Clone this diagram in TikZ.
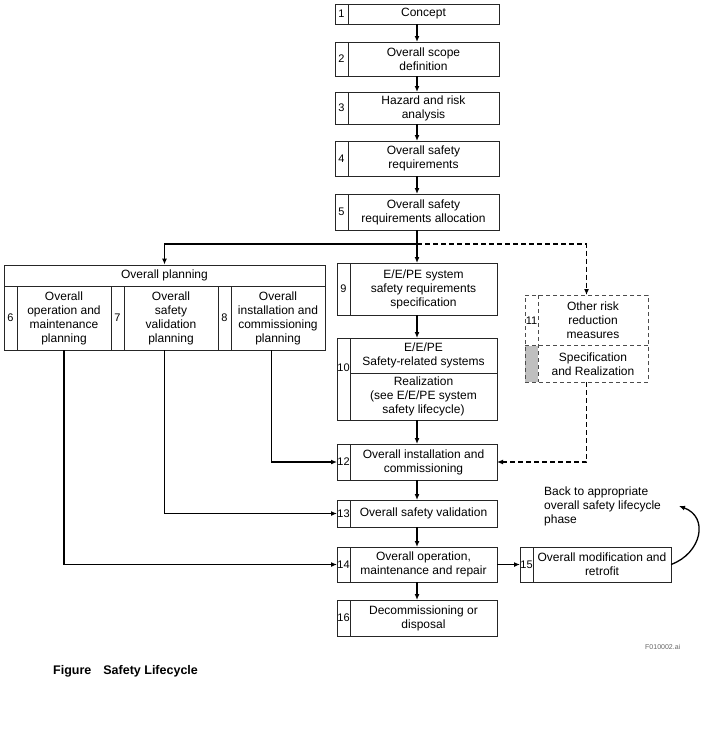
\documentclass[tikz,border=0pt]{standalone}
\usepackage{fontspec}
\setmainfont{Liberation Sans}
\usetikzlibrary{arrows.meta}

\begin{document}
\begin{tikzpicture}[x=1pt, y=1pt,
  font=\fontsize{12}{14}\selectfont,
  stepbox/.style={draw=black!85, line width=0.8pt, inner sep=0pt, outer sep=0pt,
                  minimum width=160,
                  path picture={\draw[black!85, line width=0.8pt]
                    ([xshift=13pt]path picture bounding box.north west) --
                    ([xshift=13pt]path picture bounding box.south west);}},
  dashbox/.style={draw=black!70, line width=0.8pt, dash pattern=on 4pt off 3pt,
                  inner sep=0pt, outer sep=0pt},
  num/.style={font=\fontsize{11}{13}\selectfont, anchor=center, xshift=6.5pt, inner sep=0pt},
  txt/.style={align=center, anchor=center, xshift=6.5pt, inner sep=0pt},
  arr/.style={->, line width=1.3pt, >={Latex[length=6pt,width=5pt]}},
  darr/.style={arr, dash pattern=on 5pt off 3pt},
  link/.style={line width=1.3pt}
]
  \useasboundingbox (0,0) rectangle (702,-747);

  % main column
  \node[stepbox, minimum width=164, minimum height=20,
        label={[num]west:1}, label={[txt]center:Concept}] (s1) at (417,-14) {};
  \node[stepbox, minimum width=164, minimum height=34,
        label={[num]west:2}, label={[txt]center:{Overall scope\\definition}}] (s2) at (417,-59) {};
  \node[stepbox, minimum width=164, minimum height=32,
        label={[num]west:3}, label={[txt]center:{Hazard and risk\\analysis}}] (s3) at (417,-108) {};
  \node[stepbox, minimum width=164, minimum height=35,
        label={[num]west:4}, label={[txt]center:{Overall safety\\requirements}}] (s4) at (417,-158.5) {};
  \node[stepbox, minimum width=164, minimum height=36,
        label={[num]west:5}, label={[txt]center:{Overall safety\\requirements allocation}}] (s5) at (417,-212) {};
  \coordinate (split) at (417,-244);

  % planning
  \node[draw=black!85, line width=0.8pt, inner sep=0pt, minimum width=321, minimum height=21]
        (plan) at (164.5,-275.5) {Overall planning};
  \node[stepbox, minimum width=107, minimum height=64,
        label={[num]west:6}, label={[txt]center:{Overall\\operation and\\maintenance\\planning}}] (s6) at (57.5,-318) {};
  \node[stepbox, minimum width=107, minimum height=64,
        label={[num]west:7}, label={[txt]center:{Overall\\safety\\validation\\planning}}] (s7) at (164.5,-318) {};
  \node[stepbox, minimum width=107, minimum height=64,
        label={[num]west:8}, label={[txt]center:{Overall\\installation and\\commissioning\\planning}}] (s8) at (271.5,-318) {};

  % realisation
  \node[stepbox, minimum height=52,
        label={[num]west:9}, label={[txt]center:{E/E/PE system\\safety requirements\\specification}}] (s9) at (417,-289) {};
  \node[stepbox, minimum height=82,
        label={[num, yshift=11pt]west:10},
        label={[txt, yshift=23.5pt]center:{E/E/PE\\Safety-related systems}},
        label={[txt, yshift=-17.5pt]center:{Realization\\(see E/E/PE system\\safety lifecycle)}}] (s10) at (417,-379) {};
  \draw[black!85, line width=0.8pt] ([xshift=13pt, yshift=-35pt]s10.north west) -- ([yshift=-35pt]s10.north east);

  \node[dashbox, minimum width=123, minimum height=87,
        path picture={
          \fill[black!25] (path picture bounding box.south west) rectangle
            ([xshift=13pt, yshift=36.5pt]path picture bounding box.south west);
          \draw[black!70, line width=0.8pt, dash pattern=on 4pt off 3pt]
            ([xshift=13pt]path picture bounding box.north west) --
            ([xshift=13pt]path picture bounding box.south west)
            ([yshift=36.5pt]path picture bounding box.south west) --
            ([yshift=36.5pt]path picture bounding box.south east);},
        label={[num, yshift=18pt]west:11},
        label={[txt, yshift=18pt]center:{Other risk\\reduction\\measures}},
        label={[txt, yshift=-25.5pt]center:{Specification\\and Realization}}] (s11) at (586.5,-338.5) {};

  \node[stepbox, minimum height=36,
        label={[num]west:12}, label={[txt]center:{Overall installation and\\commissioning}}] (s12) at (417,-462) {};
  \node[stepbox, minimum height=27,
        label={[num]west:13}, label={[txt]center:Overall safety validation}] (s13) at (417,-513.5) {};
  \node[stepbox, minimum height=35,
        label={[num]west:14}, label={[txt]center:{Overall operation,\\maintenance and repair}}] (s14) at (417,-564.5) {};
  \node[stepbox, minimum width=151, minimum height=35,
        label={[num]west:15}, label={[txt]center:{Overall modification and\\retrofit}}] (s15) at (595.5,-564.5) {};
  \node[stepbox, minimum height=36,
        label={[num]west:16}, label={[txt]center:{Decommissioning or\\disposal}}] (s16) at (417,-618) {};

  \node[anchor=west, align=left, inner sep=0pt] (back-txt) at (544,-506)
        {Back to appropriate\\overall safety lifecycle\\phase};
  \coordinate (back) at (679,-506);

  % connectors
  \draw[arr] (s1) -- (s2);
  \draw[arr] (s2) -- (s3);
  \draw[arr] (s3) -- (s4);
  \draw[arr] (s4) -- (s5);
  \draw[link] (s5) -- (split);
  \draw[arr] (split) -| (plan);
  \draw[arr] (split) -- (s9);
  \draw[darr] (split) -| (s11);
  \draw[arr] (s9) -- (s10);
  \draw[arr] (s10) -- (s12);
  \draw[darr] (s11) |- (s12);
  \draw[arr] (s8) |- (s12);
  \draw[arr] (s12) -- (s13);
  \draw[arr] (s7) |- (s13);
  \draw[arr] (s13) -- (s14);
  \draw[arr] ([xshift=6.5pt]s6.south) |- (s14);
  \draw[arr] (s14) -- (s16);
  \draw[arr] (s14) -- (s15);
  \draw[arr] (s15.east) to[out=20, in=-20, looseness=1.4] (back);

  % caption
  \node[anchor=west, inner sep=0pt, text=black!60, font=\fontsize{7}{8}\selectfont]
        (fileid) at (645,-647) {F010002.ai};
  \node[anchor=west, inner sep=0pt, font=\bfseries\fontsize{12.5}{15}\selectfont]
        (caption) at (53,-671) {Figure\hspace{12pt}Safety Lifecycle};
\end{tikzpicture}
\end{document}
